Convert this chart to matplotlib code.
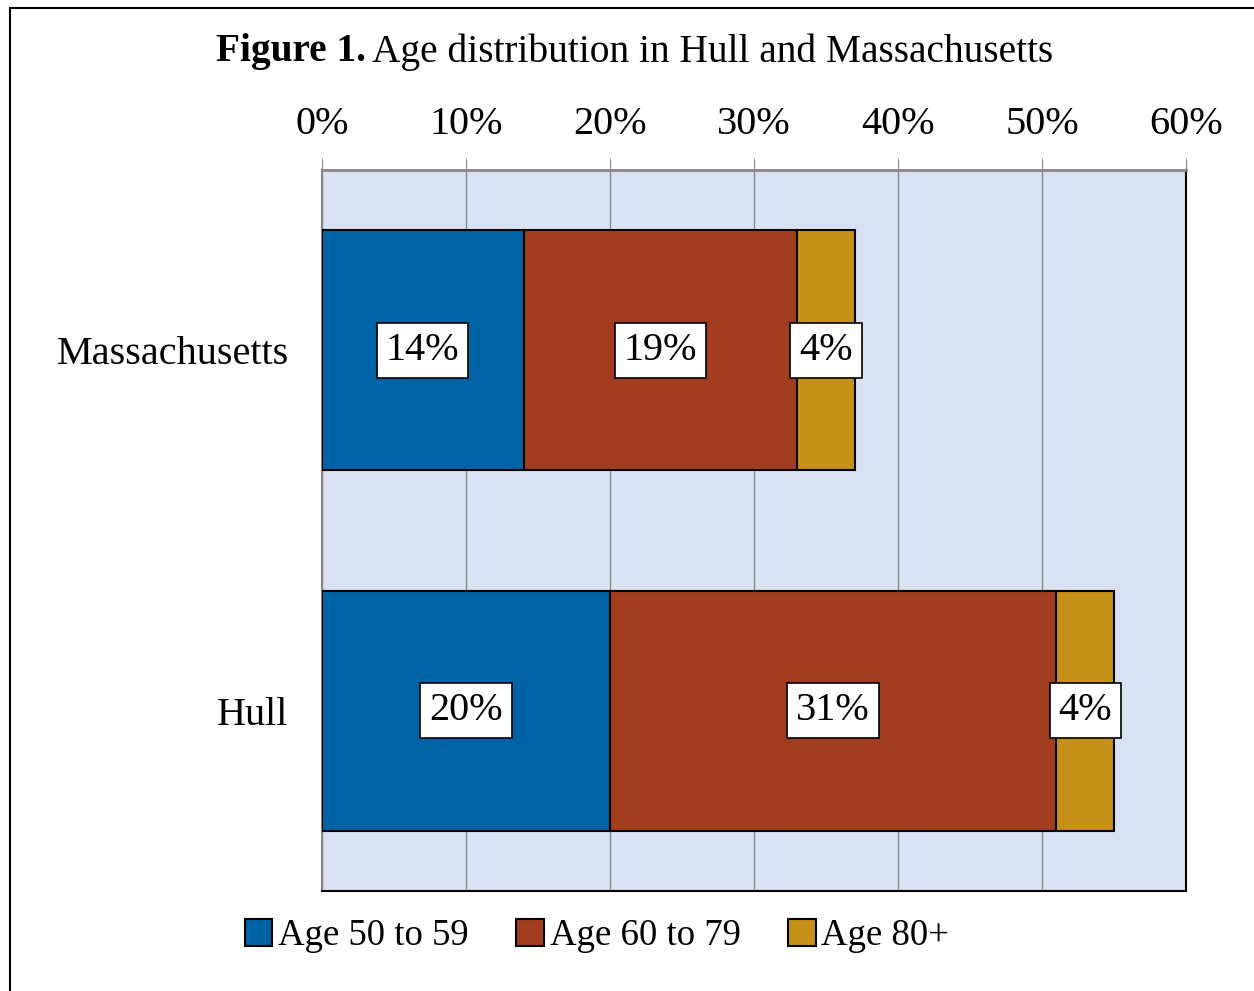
import matplotlib.pyplot as plt
from matplotlib.patches import Rectangle

# data
regions = ["Massachusetts", "Hull"]
age_50_59 = [14, 20]
age_60_79 = [19, 31]
age_80_plus = [4, 4]
series_names = ["Age 50 to 59", "Age 60 to 79", "Age 80+"]
colors = ["#0063A6", "#A23C1E", "#C59118"]
ticks = [0, 10, 20, 30, 40, 50, 60]

plt.rcParams['font.family'] = ['Liberation Serif', 'DejaVu Serif']
fs = 29

fig = plt.figure(figsize=(12.54, 9.91), dpi=100)
ax = fig.add_axes([322/1254, 1 - 891/991, (1186-322)/1254, (891-170)/991])

# outer frame
fig.patches.append(Rectangle((10/1254, -0.01), 1.5, 1 - 8/991 + 0.01,
                             transform=fig.transFigure, fill=False,
                             edgecolor='black', linewidth=1.5))

ax.set_facecolor('#D9E2F3')
ypos = [1, 0]
left = [0, 0]
for vals, name, c in zip([age_50_59, age_60_79, age_80_plus], series_names, colors):
    ax.barh(ypos, vals, left=left, height=0.667, color=c,
            edgecolor='black', linewidth=1.5, label=name, zorder=3)
    for y, v, l in zip(ypos, vals, left):
        ax.text(l + v / 2, y, f"{v}%", ha='center', va='center', fontsize=fs,
                zorder=5,
                bbox=dict(boxstyle='square,pad=0.22', facecolor='white',
                          edgecolor='black', linewidth=1.2))
    left = [a + b for a, b in zip(left, vals)]

ax.set_xlim(0, 60)
ax.set_ylim(-0.5, 1.5)
ax.set_yticks(ypos)
ax.set_yticklabels(regions, fontsize=fs)
ax.set_xticks(ticks)
ax.set_xticklabels([f"{t}%" for t in ticks], fontsize=fs)
ax.xaxis.tick_top()
ax.tick_params(axis='x', direction='out', length=8.5, color='#888888', pad=11)
ax.tick_params(axis='y', length=0, pad=24)
ax.grid(axis='x', color='#888888', linewidth=1, zorder=1)
ax.set_axisbelow(True)
ax.spines['top'].set_color('#888888')
ax.spines['left'].set_color('#888888')
ax.spines['top'].set_linewidth(2)
ax.spines['left'].set_linewidth(1.5)
ax.spines['right'].set_linewidth(1.5)
ax.spines['bottom'].set_linewidth(1.5)

# title: bold part then regular part
t1 = fig.text(216/1254, 1 - 52/991, "Figure 1.", fontsize=28.4, fontweight='bold',
              ha='left', va='center')

fig.legend(loc='center', bbox_to_anchor=(597/1254, 1 - 936/991), ncol=3,
           frameon=False, fontsize=26.5, handlelength=0.75, handleheight=0.75,
           handletextpad=0.15, columnspacing=1.3)

fig.canvas.draw()
r = fig.canvas.get_renderer()
bb = t1.get_window_extent(r)
fig.text(bb.x1 / fig.bbox.width + 6/1254, 1 - 52/991,
         "Age distribution in Hull and Massachusetts",
         fontsize=28.4, ha='left', va='center')

fig.savefig('out.png', dpi=100)
